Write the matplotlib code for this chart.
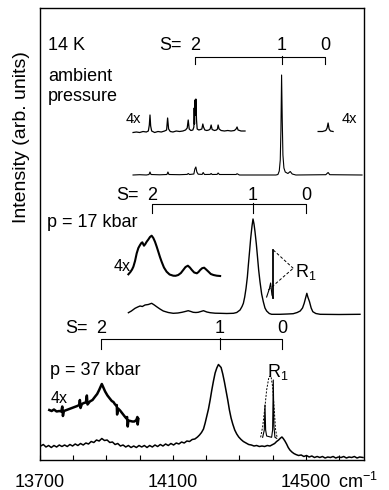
import numpy as np
import matplotlib
matplotlib.use('Agg')
import matplotlib.pyplot as plt

plt.rcParams['font.family'] = 'Liberation Sans'
plt.rcParams['mathtext.fontset'] = 'custom'
plt.rcParams['mathtext.rm'] = 'Liberation Sans'
plt.rcParams['mathtext.it'] = 'Liberation Sans'

# ---- data (wavenumber cm-1, intensity arb. units, panels stacked with offsets) ----

# ambient pressure
amb_main = np.array([
    [13980, 285], [14000, 285.3], [14020, 285], [14028, 285.5], [14031, 288], [14034, 285.5],
    [14060, 285.2], [14082, 285.5], [14085, 288], [14088, 285.5], [14120, 285.3], [14143, 285.6],
    [14146, 286.5], [14150, 285.5], [14163, 286], [14166, 291], [14169, 293], [14172, 288],
    [14176, 285.8], [14188, 285.6], [14191, 287.5], [14195, 285.5], [14212, 285.6], [14215, 286.5],
    [14218, 285.5], [14233, 285.6], [14236, 287], [14240, 285.5], [14290, 285.5], [14293, 286.3],
    [14300, 285], [14410, 285], [14416, 285.5], [14420, 289], [14423, 300], [14425, 330],
    [14427, 385], [14429, 340], [14431, 305], [14434, 292], [14438, 288], [14446, 286.5],
    [14453, 288.5], [14459, 286], [14470, 285], [14560, 285.3], [14567, 287.5], [14572, 285.3],
    [14669, 285]])
amb_4x = np.array([
    [13980, 327.5], [13990, 328], [14000, 327.5], [14010, 328.5], [14020, 328], [14026, 329],
    [14029, 335], [14031, 345], [14033, 334], [14036, 329], [14045, 327.5], [14055, 328.5],
    [14065, 328], [14075, 329], [14081, 330], [14084, 342], [14087, 331], [14092, 328.5],
    [14100, 328], [14110, 329], [14120, 328.5], [14130, 329], [14138, 330], [14143, 332],
    [14146, 340], [14149, 331], [14154, 329.5], [14160, 330], [14163, 333], [14164, 352],
    [14165, 336], [14166, 360], [14168, 345], [14169, 361], [14171, 340], [14173, 331],
    [14178, 330], [14183, 330.5], [14187, 331], [14190, 336], [14192, 333], [14196, 330],
    [14202, 329.5], [14208, 330], [14212, 331], [14215, 335], [14218, 330.5], [14225, 329.5],
    [14231, 330], [14234, 331], [14236, 335], [14239, 331], [14245, 329.5], [14255, 329],
    [14265, 329.5], [14275, 329], [14285, 329.5], [14290, 331], [14293, 333], [14296, 330],
    [14305, 329], [14317, 329]])
amb_4x_right = np.array([
    [14537, 328.5], [14550, 328.5], [14560, 329.5], [14564, 332], [14567, 337], [14570, 331],
    [14574, 329], [14582, 328.5]])

# p = 17 kbar
p17_main = np.array([
    [13966, 147.3], [13975, 149], [13986, 151.7], [13994, 153], [14001, 154], [14008, 153.5],
    [14016, 155], [14026, 155.5], [14036, 156.7], [14044, 155], [14051, 153.3], [14061, 151],
    [14071, 149], [14086, 147.5], [14101, 146.7], [14115, 147], [14127, 147.7], [14137, 148.5],
    [14146, 149.3], [14154, 148.5], [14161, 147.7], [14169, 147.5], [14176, 147.7], [14184, 148.5],
    [14192, 149.3], [14202, 148], [14212, 147.3], [14227, 146.8], [14242, 146.7], [14262, 146.5],
    [14282, 146.7], [14292, 147.5], [14302, 150], [14308, 153.5], [14312, 156.7], [14316, 163],
    [14320, 171.7], [14324, 183], [14327, 195], [14331, 210], [14334, 221.7], [14338, 234],
    [14341, 241], [14344, 236], [14347, 228.3], [14351, 216], [14354, 205], [14358, 190],
    [14362, 178.3], [14367, 166], [14372, 158.3], [14377, 152], [14382, 149], [14390, 146.5],
    [14397, 145.7], [14422, 145.7], [14445, 146], [14462, 146.3], [14474, 147.5], [14483, 149],
    [14490, 152], [14495, 156.7], [14500, 163], [14503, 166.7], [14506, 163], [14511, 158.3],
    [14516, 152], [14521, 148.3], [14530, 146.5], [14543, 145.7], [14600, 145.5], [14663, 145.7]])
p17_4x = np.array([
    [13966, 185.7], [13972, 188], [13977, 190.5], [13981, 193.3], [13986, 199], [13991, 206.7],
    [13996, 212], [14001, 215], [14005, 217], [14008, 217.7], [14011, 215.5], [14013, 214.3],
    [14017, 216], [14021, 218.3], [14026, 220.5], [14031, 223], [14036, 224.3], [14041, 222],
    [14046, 218.3], [14051, 213.5], [14056, 208.3], [14061, 203], [14066, 198.3], [14073, 192.5],
    [14081, 188.3], [14090, 185.5], [14101, 184.3], [14108, 184.2], [14116, 185], [14124, 187],
    [14131, 190], [14138, 193], [14145, 194.3], [14151, 192.5], [14157, 190], [14164, 187.5],
    [14172, 186.7], [14177, 188], [14182, 190], [14188, 191.8], [14194, 192.3], [14200, 190.5],
    [14207, 188.3], [14214, 186], [14222, 185], [14232, 184.3], [14242, 184]])
p17_r1_spike = np.array([[14382, 163], [14390, 171], [14394, 177], [14398, 165], [14402, 162]])
p17_r1_line = np.array([[14402, 162], [14402, 210]])

# p = 37 kbar
p37_main = np.array([
    [13702, 14], [13710, 15.5], [13718, 13], [13726, 14.5], [13734, 12.5], [13742, 14.5],
    [13750, 13], [13758, 15], [13766, 13.5], [13774, 15], [13782, 13.5], [13790, 15.5],
    [13798, 14], [13806, 16], [13814, 14.5], [13822, 16.5], [13830, 15], [13838, 17],
    [13846, 16], [13854, 18.5], [13862, 17.5], [13870, 20], [13878, 19], [13886, 21.5],
    [13894, 19.5], [13902, 20], [13910, 17.5], [13918, 18], [13926, 15.5], [13934, 16.5],
    [13942, 14], [13950, 15], [13958, 13], [13966, 14.5], [13974, 12.5], [13982, 14],
    [13990, 12.5], [13998, 14.5], [14006, 13], [14014, 14.5], [14022, 12.5], [14030, 14.5],
    [14038, 13], [14046, 15], [14054, 13.5], [14062, 15.5], [14070, 14], [14078, 16],
    [14086, 14.5], [14094, 16.5], [14102, 15], [14110, 17], [14118, 16], [14126, 18],
    [14134, 17], [14142, 19], [14150, 18.5], [14158, 20.5], [14166, 21], [14174, 23],
    [14180, 25], [14186, 27.5], [14192, 31], [14197, 37], [14202, 44], [14207, 51],
    [14212, 60], [14217, 70], [14222, 79], [14227, 87], [14232, 92], [14237, 95.5],
    [14241, 94], [14245, 92.5], [14250, 86], [14255, 78], [14260, 69], [14265, 60],
    [14270, 50], [14275, 42], [14280, 36], [14286, 30], [14292, 26], [14298, 23],
    [14305, 20.5], [14312, 18.5], [14320, 17], [14328, 15.5], [14336, 15], [14344, 14],
    [14352, 14.5], [14360, 13.5], [14368, 14], [14376, 13.5], [14384, 14.5], [14392, 14],
    [14400, 15.5], [14406, 16.5], [14412, 18.5], [14418, 20], [14424, 22], [14428, 23],
    [14432, 21.5], [14437, 19], [14442, 16], [14447, 12.5], [14452, 10], [14458, 8],
    [14464, 6.5], [14470, 5.5], [14478, 4.5], [14486, 5], [14494, 3.5], [14502, 4.5],
    [14510, 3], [14518, 4], [14526, 2.5], [14534, 3.5], [14542, 2.5], [14550, 3.5],
    [14558, 2], [14566, 3], [14574, 2.5], [14582, 3.5], [14590, 2], [14598, 3],
    [14606, 2.5], [14614, 3.5], [14622, 2], [14630, 3], [14638, 2.5], [14646, 3.5],
    [14654, 2], [14662, 3], [14672, 2.5]])
p37_4x = np.array([
    [13728, 50], [13735, 49], [13742, 50.5], [13750, 48.5], [13758, 49], [13764, 48.5],
    [13767, 53.5], [13769, 44], [13772, 49], [13780, 50], [13788, 51], [13796, 52],
    [13804, 53], [13812, 54], [13818, 55], [13820, 60], [13822, 52], [13826, 56],
    [13832, 57], [13838, 57.5], [13841, 64.5], [13843, 55.5], [13850, 58.5], [13858, 60],
    [13866, 63.5], [13872, 66], [13878, 70], [13882, 73], [13886, 76], [13890, 73],
    [13896, 68.5], [13903, 64.5], [13910, 61.5], [13916, 59], [13921, 58], [13926, 55.5],
    [13930, 54.5], [13931, 55], [13932, 45.5], [13935, 51.5], [13941, 49.5], [13948, 46.5],
    [13955, 43.5], [13960, 41.5], [13962, 43], [13964, 33.5], [13966, 39.5], [13972, 39],
    [13978, 38.5], [13984, 38.5], [13990, 40], [13993, 43], [13994, 35.5], [13996, 41]])
p37_r1_dash = np.array([
    [14364, 22.7], [14370, 33.3], [14377, 53.3], [14382, 70], [14389, 83.3], [14395, 84],
    [14400, 73.3], [14405, 50], [14409, 30], [14414, 21.7]])
p37_r1 = np.array([
    [14370, 22.7], [14375, 30], [14377, 55], [14379, 30], [14382, 24], [14397, 22.7],
    [14400, 30], [14402, 80], [14404, 33.3], [14407, 22.7], [14412, 21.7]])

# S = 2, 1, 0 progression markers per panel
s_amb = [14167, 14428, 14558]
s_17 = [14037, 14341, 14501]
s_37 = [13884, 14242, 14428]
s_labels = ['2', '1', '0']

k = 'black'
fig = plt.figure(figsize=(3.89, 4.90), dpi=100)
ax = fig.add_axes([40 / 389, 1 - 460 / 490, 324 / 389, 452 / 490])
ax.set_xlim(13700, 14675)
ax.set_ylim(0, 452)

# spectra
ax.plot(amb_main[:, 0], amb_main[:, 1], color=k, lw=0.8)
ax.plot(amb_4x[:, 0], amb_4x[:, 1], color=k, lw=0.9)
ax.plot(amb_4x_right[:, 0], amb_4x_right[:, 1], color=k, lw=0.9)

ax.plot(p17_main[:, 0], p17_main[:, 1], color=k, lw=1.0)
ax.plot(p17_4x[:, 0], p17_4x[:, 1], color=k, lw=1.5)
ax.plot(p17_r1_spike[:, 0], p17_r1_spike[:, 1], color=k, lw=0.8)
ax.plot(p17_r1_line[:, 0], p17_r1_line[:, 1], color=k, lw=1.3)

ax.plot(p37_main[:, 0], p37_main[:, 1], color=k, lw=1.1)
ax.plot(p37_4x[:, 0], p37_4x[:, 1], color=k, lw=1.8)
ax.plot(p37_r1_dash[:, 0], p37_r1_dash[:, 1], color=k, lw=0.7, ls=(0, (2, 1.5)))
ax.plot(p37_r1[:, 0], p37_r1[:, 1], color=k, lw=0.8)

# R1 pointers in the 17 kbar panel
ax.plot([14402, 14462], [210, 191.7], color=k, lw=0.7, ls=(0, (3, 2)))
ax.plot([14387, 14462], [170, 191.7], color=k, lw=0.7, ls=(0, (3, 2)))

# brackets
fs = 13
for xs, yb, dy, yt in [(s_amb, 403, 7, 410), (s_17, 256, 9, 260), (s_37, 121, 9.5, 126.7)]:
    ax.plot([xs[0], xs[0], xs[2], xs[2]], [yb - dy, yb, yb, yb - dy], color=k, lw=0.8)
    ax.plot([xs[1], xs[1]], [yb + 1.5, yb - dy], color=k, lw=0.8)
    for s, xv in zip(s_labels, xs):
        ax.text(xv, yt, s, ha='center', va='baseline', fontsize=fs)
    ax.text(xs[0] - 40, yt, 'S=', ha='right', va='baseline', fontsize=fs)

# labels
ax.text(13724, 410, '14 K', fontsize=fs, va='baseline')
ax.text(13724, 359, 'ambient\npressure', fontsize=fs, va='baseline', linespacing=1.25)
ax.text(13720, 233.3, 'p = 17 kbar', fontsize=fs, va='baseline')
ax.text(13729, 85, 'p = 37 kbar', fontsize=fs, va='baseline')
ax.text(13981, 336.7, '4x', fontsize=10.5, ha='center', va='baseline')
ax.text(14630, 336.7, '4x', fontsize=10.5, ha='center', va='baseline')
ax.text(13946, 189, '4x', fontsize=11.5, ha='center', va='baseline')
ax.text(13757, 57.3, '4x', fontsize=11.5, ha='center', va='baseline')
ax.text(14467, 183.3, r'R$_1$', fontsize=fs, va='baseline')
ax.text(14382, 83, r'R$_1$', fontsize=fs, va='baseline')
ax.text(14598, -28, r'cm$^{-1}$', fontsize=13, va='baseline', clip_on=False)

fig.text(22 / 389, 1 - 137 / 490, 'Intensity (arb. units)', rotation=90,
         ha='center', va='center', fontsize=14)

# axes look
ax.set_yticks([])
ax.set_xticks([13700, 14100, 14500])
ax.set_xticks(np.arange(13800, 14700, 100), minor=True)
ax.tick_params(axis='x', which='both', direction='in', length=3.5, width=0.8,
               labelsize=fs, pad=10)
for sp in ax.spines.values():
    sp.set_linewidth(1.0)

fig.savefig('out.png', dpi=100)
